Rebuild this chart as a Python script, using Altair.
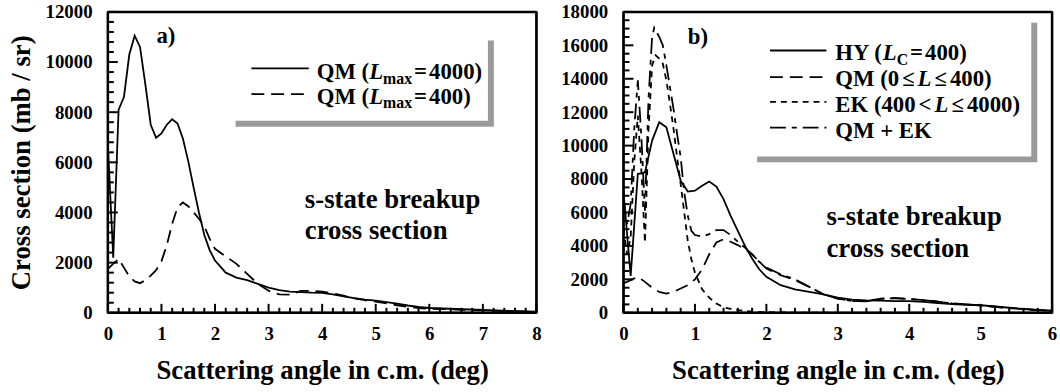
import altair as alt
import pandas as pd

SERIF = "Liberation Serif"
W, H = 433, 304

# ---------------- data: panel a ----------------
a_x = [0, 0.1, 0.2, 0.3, 0.4, 0.5, 0.6, 0.7, 0.8, 0.9, 1.0,
       1.1, 1.2, 1.3, 1.4, 1.5, 1.6, 1.7, 1.8, 1.9, 2.0,
       2.2, 2.4, 2.6, 2.8, 3.0, 3.2, 3.4, 3.6, 3.8, 4.0,
       4.2, 4.4, 4.6, 4.8, 5.0, 5.2, 5.4, 5.6, 5.8, 6.0,
       6.5, 7.0, 7.5, 8.0]
a_qm4000 = [6700, 2200, 8100, 8600, 10300, 11050, 10600, 9100, 7500, 6980, 7150,
            7500, 7720, 7550, 6950, 6050, 5000, 4000, 3100, 2500, 2080,
            1600, 1400, 1300, 1150, 1000, 900, 840, 820, 800, 790,
            730, 650, 580, 520, 480, 420, 360, 290, 230, 190,
            150, 110, 70, 40]
a_qm400 = [1750, 1950, 2150, 1800, 1450, 1250, 1180, 1300, 1480, 1700, 2050,
           2700, 3550, 4200, 4400, 4250, 4000, 3750, 3450, 2950, 2550,
           2250, 1950, 1550, 1150, 880, 730, 720, 870, 880, 840,
           780, 680, 570, 500, 440, 370, 300, 240, 190, 160,
           130, 95, 60, 30]

# ---------------- data: panel b ----------------
b_x = [0, 0.1, 0.2, 0.3, 0.4, 0.5, 0.6, 0.7, 0.8, 0.9, 1.0,
       1.1, 1.2, 1.3, 1.4, 1.5, 1.6, 1.7, 1.8, 1.9, 2.0,
       2.2, 2.4, 2.6, 2.8, 3.0, 3.2, 3.4, 3.6, 3.8, 4.0,
       4.2, 4.4, 4.6, 4.8, 5.0, 5.2, 5.4, 5.6, 5.8, 6.0]
b_hy = [7200, 2200, 8300, 8400, 10300, 11400, 11100, 9500, 7900, 7250, 7300,
        7600, 7850, 7550, 6800, 5800, 4900, 4000, 3250, 2600, 2150,
        1650, 1400, 1250, 1100, 900, 780, 740, 720, 700, 690,
        650, 580, 520, 480, 450, 380, 300, 230, 170, 120]
b_qm = [1750, 1950, 2150, 1850, 1500, 1250, 1150, 1250, 1450, 1650, 2000,
        2600, 3500, 4200, 4400, 4250, 4050, 3800, 3500, 3050, 2650,
        2250, 1950, 1550, 1100, 850, 700, 700, 850, 880, 830,
        760, 660, 560, 500, 440, 360, 280, 220, 160, 120]
b_ek_x = [0, 0.05, 0.1, 0.15, 0.2, 0.25, 0.3, 0.35, 0.4, 0.45, 0.5,
          0.55, 0.6, 0.65, 0.7, 0.75, 0.8, 0.85, 0.9, 0.95, 1.0,
          1.1, 1.2, 1.3, 1.4, 1.5, 1.6, 1.7, 1.8, 1.9, 2.0,
          2.2, 2.4, 2.6, 3.0, 4.0, 5.0, 6.0]
b_ek = [5000, 3500, 4500, 9000, 11800, 8500, 4200, 11000, 14800, 15400, 15200,
        14900, 13900, 12500, 11000, 9300, 7700, 6000, 4300, 3200, 2400,
        1400, 900, 550, 330, 230, 160, 110, 70, 50, 40,
        20, 10, 5, 0, 0, 0, 0]
b_sum_x = [0, 0.05, 0.1, 0.15, 0.2, 0.25, 0.3, 0.35, 0.4, 0.43, 0.5,
           0.55, 0.6, 0.65, 0.7, 0.75, 0.8, 0.85, 0.9, 0.95, 1.0,
           1.1, 1.2, 1.3, 1.4, 1.5, 1.6, 1.7, 1.8, 1.9, 2.0,
           2.2, 2.4, 2.6, 2.8, 3.0, 3.2, 3.4, 3.6, 3.8, 4.0,
           4.2, 4.4, 4.6, 4.8, 5.0, 5.2, 5.4, 5.6, 5.8, 6.0]
b_sum = [6800, 5300, 6500, 11000, 13900, 10500, 6100, 12800, 16500, 17050, 16500,
         16000, 14800, 13500, 12200, 10700, 9300, 7200, 5800, 4900, 4650,
         4550, 4700, 4950, 4950, 4650, 4250, 3900, 3500, 3050, 2700,
         2300, 2000, 1550, 1100, 850, 700, 690, 830, 870, 820,
         760, 660, 560, 500, 440, 360, 280, 220, 160, 120]

# ---------------- ticks ----------------
a_xmajor = [0, 1, 2, 3, 4, 5, 6, 7, 8]
a_xminor = [round(i * 0.2, 1) for i in range(41) if i % 5]
a_ymajor = [0, 2000, 4000, 6000, 8000, 10000, 12000]
a_yminor = [i * 400 for i in range(31) if i % 5]
b_xmajor = [0, 1, 2, 3, 4, 5, 6]
b_xminor = [round(i * 0.2, 1) for i in range(31) if i % 5]
b_ymajor = [0, 2000, 4000, 6000, 8000, 10000, 12000, 14000, 16000, 18000]
b_yminor = [i * 500 for i in range(37) if i % 4]

X_TITLE = "Scattering angle in c.m. (deg)"
Y_TITLE = "Cross section (mb / sr)"

EM = {" ": .25, "(": .333, ")": .333, "=": .57, "<": .57, "\u2264": .549, "+": .57,
      "Q": .778, "M": .944, "H": .778, "Y": .722, "E": .667, "K": .778, "C": .722,
      "L": .667, "m": .833, "a": .5, "x": .5}


def tw(s, size, italic=False):
    tot = 0
    for c in s:
        if italic and c == "L":
            tot += .611
        else:
            tot += EM.get(c, .5)
    return tot * size


def text_layer(txt, x, y, size, style="normal", align="left"):
    kw = dict(align=align, baseline="alphabetic", font=SERIF, fontSize=size,
              fontWeight="bold", color="black")
    if style != "normal":
        kw["fontStyle"] = style
    return alt.Chart(pd.DataFrame({"t": [txt]})).mark_text(**kw).encode(
        x=alt.value(x), y=alt.value(y), text="t:N")


def rich(segs, x, y, size):
    out = []
    cx = x
    for seg in segs:
        txt, kind = seg[0], seg[1]
        gap = seg[2] if len(seg) > 2 else 0
        cx += gap
        if kind == "s":
            sz = round(size * 0.68)
            out.append(text_layer(txt, cx, y + size * 0.2, sz))
            cx += tw(txt, sz)
        elif kind == "i":
            out.append(text_layer(txt, cx, y, size, "italic"))
            cx += tw(txt, size, True)
        else:
            out.append(text_layer(txt, cx, y, size))
            cx += tw(txt, size)
    return out


def one():
    return alt.Chart(pd.DataFrame({"d": [0]}))


def rect(x1, x2, y1, y2, color):
    return one().mark_rect(color=color).encode(
        x=alt.value(x1), x2=alt.value(x2), y=alt.value(y1), y2=alt.value(y2))


def hseg(x1, x2, y, dash=None, width=1.8):
    kw = dict(color="black", strokeWidth=width)
    if dash:
        kw["strokeDash"] = dash
    return one().mark_rule(**kw).encode(x=alt.value(x1), x2=alt.value(x2), y=alt.value(y))


def vseg(x, y1, y2, width=2.5):
    return one().mark_rule(color="black", strokeWidth=width).encode(
        x=alt.value(x), y=alt.value(y1), y2=alt.value(y2))


def frame():
    return [hseg(0, W, 0, width=2.5), hseg(0, W, H, width=2.5),
            vseg(0, 0, H), vseg(W, 0, H)]


def panel(series, xdom, ydom, xmaj, xmin, ymaj, ymin, ytitle):
    xs = alt.Scale(domain=xdom, nice=False, zero=False)
    ys = alt.Scale(domain=ydom, nice=False, zero=False)
    xaxis = alt.Axis(values=xmaj, format="d", ticks=False, tickSize=0, domain=False,
                     grid=False, labelFont=SERIF, labelFontSize=19, labelFontWeight="bold",
                     labelColor="black", labelPadding=12, labelFlush=False,
                     labelOverlap=False, title=X_TITLE, titleFont=SERIF,
                     titleFontSize=27, titleFontWeight="bold", titleColor="black",
                     titlePadding=14)
    yargs = dict(values=ymaj, format="d", ticks=False, tickSize=0, domain=False,
                 grid=False, labelFont=SERIF, labelFontSize=19, labelFontWeight="bold",
                 labelColor="black", labelPadding=16, labelFlush=False,
                 labelOverlap=False)
    if ytitle:
        yargs.update(title=ytitle, titleFont=SERIF, titleFontSize=27,
                     titleFontWeight="bold", titleColor="black", titlePadding=10)
    else:
        yargs.update(title=None)
    yaxis = alt.Axis(**yargs)
    layers = []
    for xv, yv, dash in series:
        kw = dict(color="black", strokeWidth=1.8)
        if dash:
            kw["strokeDash"] = dash
        layers.append(alt.Chart(pd.DataFrame({"x": xv, "y": yv})).mark_line(**kw).encode(
            x=alt.X("x:Q", scale=xs, axis=xaxis),
            y=alt.Y("y:Q", scale=ys, axis=yaxis)))
    # inward tick marks along the bottom and left edges
    for vals, ln in ((xmaj, 9), (xmin, 5)):
        layers.append(alt.Chart(pd.DataFrame({"x": vals})).mark_rule(
            color="black", strokeWidth=2).encode(
            x=alt.X("x:Q", scale=xs, axis=xaxis), y=alt.value(H), y2=alt.value(H - ln)))
    for vals, ln in ((ymaj, 10), (ymin, 6)):
        layers.append(alt.Chart(pd.DataFrame({"y": vals})).mark_rule(
            color="black", strokeWidth=2).encode(
            y=alt.Y("y:Q", scale=ys, axis=yaxis), x=alt.value(0), x2=alt.value(ln)))
    return layers


# ---------------- panel a ----------------
la = panel([(a_x, a_qm4000, None), (a_x, a_qm400, [13, 7])],
           [0, 8], [0, 12000], a_xmajor, a_xminor, a_ymajor, a_yminor, Y_TITLE)
la = [rect(129, 390, 29, 116, "#9a9a9a"), rect(123, 384, 24, 110, "white")] + la
la += [hseg(145, 203, 57), hseg(145, 203, 83, [13, 7])]
la += rich([("QM (", "n"), ("L", "i"), ("max", "s"), ("=", "n", 2), ("4000)", "n", 2)], 211, 68, 23)
la += rich([("QM (", "n"), ("L", "i"), ("max", "s"), ("=", "n", 2), ("400)", "n", 2)], 211, 93, 23)
la += [text_layer("a)", 49, 31, 23),
       text_layer("s-state breakup", 199, 198, 27),
       text_layer("cross section", 199, 229, 27)]
la += frame()
panel_a = alt.layer(*la).properties(width=W, height=H)

# ---------------- panel b ----------------
lb = panel([(b_x, b_hy, None), (b_x, b_qm, [13, 7]), (b_ek_x, b_ek, [6, 5]),
            (b_sum_x, b_sum, [16, 6, 5, 6])],
           [0, 6], [0, 18000], b_xmajor, b_xminor, b_ymajor, b_yminor, None)
lb = [rect(135, 418, 11, 152, "#9a9a9a"), rect(129, 412, 6, 146, "white")] + lb
lb += [hseg(148, 205, 39), hseg(148, 205, 66, [13, 7]),
       hseg(148, 205, 91, [6, 5]), hseg(148, 205, 117, [16, 6, 5, 6])]
lb += rich([("HY (", "n"), ("L", "i"), ("C", "s"), ("=", "n", 2), ("400)", "n", 2)], 214, 49, 23)
lb += rich([("QM (0", "n"), ("\u2264", "n", 3), ("L", "i", 3), ("\u2264", "n", 3), ("400)", "n", 3)], 214, 75, 23)
lb += rich([("EK (400", "n"), ("<", "n", 3), ("L", "i", 3), ("\u2264", "n", 3), ("4000)", "n", 3)], 214, 101, 23)
lb += rich([("QM + EK", "n")], 214, 127, 23)
lb += [text_layer("b)", 65, 32, 23),
       text_layer("s-state breakup", 205, 215, 27),
       text_layer("cross section", 205, 248, 27)]
lb += frame()
panel_b = alt.layer(*lb).properties(width=W, height=H)

chart = alt.hconcat(panel_a, panel_b, spacing=17).properties(
    padding={"left": 6, "top": 0, "right": 2, "bottom": 2},
    background="white",
).configure_view(stroke="black", strokeWidth=2)

chart.save("out.html", embed_options={"renderer": "svg", "actions": False})
